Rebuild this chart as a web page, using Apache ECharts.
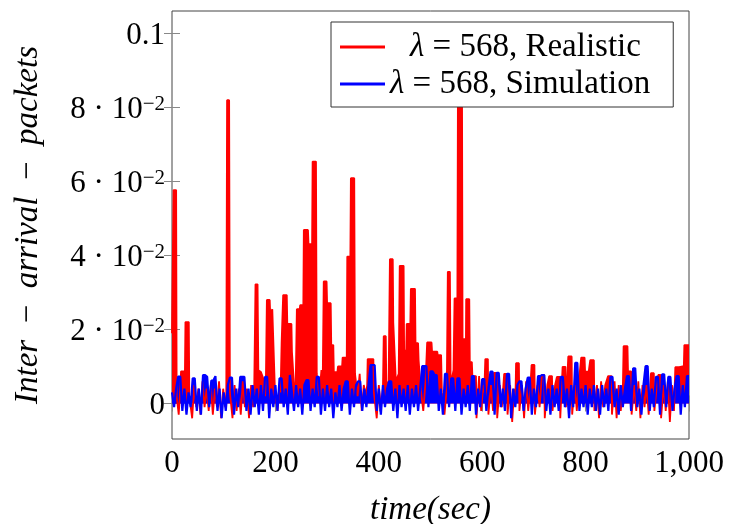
<!DOCTYPE html>
<html><head><meta charset="utf-8">
<script src="https://cdn.jsdelivr.net/npm/echarts@6.0.0/dist/echarts.min.js"></script>
<style>html,body{margin:0;padding:0;background:#fff}#c{width:740px;height:524px}</style>
</head><body><div id="c"></div>
<script>
const seriesNames = ['λ = 568, Realistic', 'λ = 568, Simulation'];
const xTicks = [0, 200, 400, 600, 800, 1000];
const xTickLabels = ['0', '200', '400', '600', '800', '1,000'];
const yTicks = [0, 0.02, 0.04, 0.06, 0.08, 0.1];
const yTickLabels = ['0', '2 · 10^−2', '4 · 10^−2', '6 · 10^−2', '8 · 10^−2', '0.1'];
const xTitle = 'time(sec)';
const yTitleWords = ['Inter', 'arrival', 'packets'];

// Realistic series: [time (s), inter-arrival]
const redPoints = [
[0,0.019],[2,0.019],[3,0.0577],[8,0.0577],[9,0.002],[13,-0.003],[16,0.004],[17.5,0.0087],[25,0.0087],[26,0.022],[32.5,0.022],[33.5,0.002],[39,-0.004],[43,0.005],[47,-0.001],[51,0.004],[55,-0.003],[59,0.006],[63,-0.001],[67,0.004],[71,-0.002],[75,0.005],[79,-0.003],[83,0.004],[87,-0.001],[91,0.006],[95,-0.004],[99,0.004],[103,-0.001],[105,0.003],[106.5,0.082],[110.5,0.082],[112,0.003],[117,-0.004],[121,0.005],[125,-0.002],[129,0.004],[133,-0.003],[137,0.006],[141,-0.001],[145,0.004],[149,-0.004],[153,0.005],[157,-0.001],[159,0.004],[161.5,0.0322],[165.5,0.0322],[167,0.009],[172,0.0085],[176,0.007],[180,0.002],[181.5,0.005],[183.5,0.028],[189,0.028],[190,0.0242],[193,0.0242],[194,0.0255],[197.5,0.0255],[199,0.004],[204,-0.002],[208,0.005],[210,0.003],[212,0.0163],[214,0.0163],[215,0.0293],[222,0.0293],[223,0.0215],[231,0.0215],[232,0.014],[235,0.014],[236.5,0.004],[239,0.003],[241.5,0.0255],[247,0.0255],[248,0.0266],[254,0.0266],[255,0.0469],[263,0.0469],[264,0.0431],[271,0.0431],[272,0.0654],[278.5,0.0654],[280,0.008],[285,0.002],[289,0.009],[291.5,0.006],[293.5,0.033],[299,0.033],[300,0.0271],[307,0.0271],[308,0.0158],[312,0.0158],[313,0.0085],[320,0.0085],[321,0.010],[329,0.010],[330,0.0124],[338,0.0124],[339,0.0397],[345,0.0397],[346,0.0609],[352.5,0.0609],[354,0.008],[359,0.002],[363,0.008],[367,-0.002],[371,0.005],[375,0.002],[377.5,0.005],[378.5,0.012],[389.5,0.012],[390.5,0.003],[396,-0.004],[400,0.005],[404,-0.001],[408,0.004],[409.5,0.0182],[413.5,0.0182],[414.5,0.005],[419,0.006],[421.5,0.039],[427,0.039],[428,0.0219],[431.5,0.0219],[433,0.006],[438.5,0.008],[440.5,0.0372],[448,0.0372],[449,0.0143],[453,0.0143],[454,0.0215],[461,0.0215],[462,0.031],[470,0.031],[471,0.0163],[476,0.0163],[477,0.0118],[479.5,0.0118],[481,0.004],[486,-0.002],[490.5,0.006],[493.5,0.0165],[502,0.0165],[503,0.014],[513,0.014],[514,0.0131],[520.5,0.0131],[522,0.003],[527,-0.003],[531.5,0.004],[533.5,0.0356],[537.5,0.0356],[539,0.005],[544.5,0.009],[546.5,0.0284],[552,0.0284],[553,0.082],[561,0.082],[562,0.0174],[567,0.0174],[568,0.006],[569,0.0282],[575,0.0282],[576,0.0112],[580,0.0112],[581,0.0074],[588,0.0074],[589,-0.004],[594,0.0074],[598,-0.002],[602,0.005],[604,0.003],[606,0.012],[611,0.012],[612,-0.003],[617,0.005],[621,-0.002],[622.5,0.0083],[628,0.0083],[629,-0.004],[634,0.005],[638,-0.001],[642.5,0.008],[648,0.008],[649,-0.003],[654,0.005],[658,-0.005],[662,0.004],[664.5,0.003],[665.5,0.0109],[671,0.0109],[672,-0.002],[677,0.005],[681,-0.004],[685,0.006],[689,-0.002],[693,0.004],[695.5,0.0104],[701,0.0104],[702,-0.003],[707,0.005],[711,-0.001],[715.5,0.0077],[720,0.0077],[721,-0.004],[726,0.005],[729.5,0.0074],[735,0.0074],[736,-0.002],[741,0.005],[744.5,0.0072],[750,0.0072],[751,-0.004],[755.5,0.0099],[761,0.0099],[762,-0.001],[766.5,0.0127],[773,0.0127],[774,-0.003],[779,0.005],[783,-0.002],[787,0.006],[791.5,0.0124],[798,0.0124],[799,0.0086],[806,0.0086],[807,0.0097],[809,0.0117],[816,0.0117],[817,-0.002],[822,0.005],[826,-0.004],[830,0.006],[834,-0.001],[838,0.005],[843.5,0.0074],[850,0.0074],[851,-0.003],[856,0.006],[860,-0.004],[864,0.005],[868,-0.002],[872,0.004],[873.5,0.0155],[881,0.0155],[882,0.0087],[888,0.0087],[889,-0.003],[894,0.005],[898,-0.002],[902,0.006],[906,-0.004],[910,0.005],[914,-0.001],[918,0.005],[922,-0.003],[926.5,0.0082],[932,0.0082],[933,-0.002],[938,0.005],[940.5,0.0077],[945,0.0077],[946,-0.004],[951,0.005],[955,-0.002],[959,0.006],[963,-0.005],[967,0.005],[971,-0.002],[973.5,0.0098],[981,0.0098],[982,0.0101],[990,0.0101],[991,0.0158],[1000,0.0158]
];

// Simulation series: one value every 4 s from t = 0
const blueStep = 4;
const blueValues = [
0.003,-0.001,0.004,0.0073,0.0073,-0.002,0.004,-0.003,0.003,-0.001,
0.0068,0.0068,-0.002,0.004,-0.003,0.0077,0.0077,0.0072,-0.001,0.0062,
0.0062,0.0074,-0.002,0.004,-0.004,0.003,-0.002,0.005,0.007,0.007,
-0.003,0.004,-0.001,0.0072,0.0072,0.0072,-0.002,0.004,-0.003,0.005,
-0.001,0.004,-0.003,0.005,-0.002,0.0072,0.0072,-0.004,0.004,-0.001,
0.005,-0.002,0.0068,0.0068,-0.001,0.004,-0.003,0.0077,0.003,-0.002,
0.005,-0.001,0.004,-0.003,0.005,0.0063,0.0063,-0.002,0.004,-0.001,
0.0072,0.0072,-0.003,0.004,-0.002,0.005,-0.001,0.004,-0.004,0.003,
-0.001,0.005,-0.002,0.004,0.006,0.006,-0.003,0.004,-0.001,0.005,
0.006,0.006,-0.002,0.004,-0.001,0.005,0.0104,0.0104,0.0104,-0.002,
0.004,-0.003,0.005,-0.001,0.004,0.006,0.006,-0.002,0.004,-0.004,
0.005,-0.001,0.004,-0.002,0.005,-0.003,0.004,-0.001,0.005,-0.002,
0.004,0.0101,0.0101,0.0101,-0.001,0.0087,0.0087,0.0077,0.0077,-0.002,
0.004,-0.003,0.008,0.008,-0.001,0.0068,0.0068,-0.002,0.0068,0.0068,
-0.003,0.004,-0.001,0.005,-0.002,0.0074,0.0074,-0.003,0.004,-0.001,
0.0066,0.0066,-0.002,0.004,0.0086,0.0086,-0.003,0.0083,0.0083,-0.001,
0.004,-0.002,0.008,0.008,-0.004,0.004,-0.001,0.005,0.006,0.006,
-0.002,0.004,0.007,0.007,-0.003,0.004,-0.001,0.0074,0.0074,0.0077,
0.0077,-0.002,0.004,-0.003,0.005,-0.001,0.004,-0.002,0.0072,0.0072,
-0.001,0.004,-0.004,0.005,-0.001,0.011,0.011,-0.002,0.004,-0.001,
0.005,-0.003,0.004,-0.001,0.005,-0.002,0.004,-0.003,0.005,-0.001,
0.004,-0.002,0.0072,0.0072,-0.001,0.004,-0.003,0.005,-0.001,0.004,
0.0074,0.0074,-0.002,0.0095,0.0095,-0.001,0.004,-0.003,0.005,0.0101,
0.0101,-0.002,0.004,-0.001,0.0072,0.0072,-0.003,0.0079,0.0079,-0.001,
0.0072,0.0072,-0.002,0.004,0.0074,0.0074,-0.003,0.005,-0.001,0.0074,
0.0074
];
const bluePoints = blueValues.map((v, i) => [i * blueStep, v]);

const FONT = 'Liberation Serif';
const TICK_FS = 31, TITLE_FS = 33, LEG_FS = 33;
const RED = '#ff0000', BLUE = '#0000ff';
const xLabelFor = v => { const i = xTicks.indexOf(v); return i >= 0 ? xTickLabels[i] : ''; };
const yLabelFor = v => {
  const i = yTicks.findIndex(t => Math.abs(t - v) < 1e-9);
  if (i < 0) return '';
  const p = yTickLabels[i].split('^');
  return p.length > 1 ? '{n|' + p[0] + '}{s|' + p[1] + '}' : '{n|' + p[0] + '}';
};
const tickStyle = { inside: true, length: 8, lineStyle: { color: '#888', width: 1 } };

const chart = echarts.init(document.getElementById('c'), null, { renderer: 'canvas' });
chart.setOption({
  animation: false,
  grid: { left: 172, right: 51, top: 11, bottom: 85, show: true, borderColor: '#444', borderWidth: 1,
          backgroundColor: 'transparent', containLabel: false, outerBoundsMode: 'none' },
  legend: {
    data: seriesNames.map(n => ({ name: n, icon: 'rect' })), orient: 'vertical', left: 331, top: 22,
    itemWidth: 45, itemHeight: 3, itemGap: 3, padding: [8, 23, 6, 9],
    backgroundColor: '#fff', borderColor: '#333', borderWidth: 1, borderRadius: 0,
    selectedMode: false,
    formatter: name => {
      const k = name.indexOf(' ');
      return (name === seriesNames[0] ? '{sp| }' : '') + '{i|' + name.slice(0, k) + '}{r|' + name.slice(k) + '}';
    },
    textStyle: {
      fontFamily: FONT, fontSize: LEG_FS, color: '#000', lineHeight: 34,
      rich: {
        i: { fontFamily: FONT, fontStyle: 'italic', fontSize: LEG_FS, lineHeight: 34, color: '#000' },
        r: { fontFamily: FONT, fontSize: LEG_FS, lineHeight: 34, color: '#000' },
        sp: { width: 20 }
      }
    }
  },
  xAxis: [
    { type: 'value', min: 0, max: 1000, interval: 200, position: 'bottom',
      axisLine: { show: false }, axisTick: tickStyle, splitLine: { show: false },
      axisLabel: { margin: 9, formatter: xLabelFor, fontFamily: FONT, fontSize: TICK_FS, color: '#000' },
      name: xTitle, nameLocation: 'middle', nameGap: 55,
      nameTextStyle: { fontFamily: FONT, fontStyle: 'italic', fontSize: TITLE_FS, color: '#000' } },
    { type: 'value', min: 0, max: 1000, interval: 200, position: 'top',
      axisLine: { show: false }, axisTick: tickStyle, splitLine: { show: false }, axisLabel: { show: false } }
  ],
  yAxis: [
    { type: 'value', min: -0.0096, max: 0.1061, position: 'left',
      axisLine: { show: false }, splitLine: { show: false },
      axisTick: Object.assign({ customValues: yTicks }, tickStyle),
      axisLabel: { customValues: yTicks, formatter: yLabelFor, margin: 7, padding: [5, 0, 0, 0],
        rich: {
          n: { fontFamily: FONT, fontSize: TICK_FS, color: '#000', lineHeight: 32 },
          s: { fontFamily: FONT, fontSize: 21, color: '#000', verticalAlign: 'top', lineHeight: 15 }
        } },
      name: yTitleWords.map(w => '{i|' + w + '}').join('\u2002−\u2002'), nameLocation: 'middle', nameGap: 127,
      nameTextStyle: { fontFamily: FONT, fontSize: TITLE_FS, color: '#000',
        rich: { i: { fontFamily: FONT, fontStyle: 'italic', fontSize: TITLE_FS, color: '#000' } } } },
    { type: 'value', min: -0.0096, max: 0.1061, position: 'right',
      axisLine: { show: false }, splitLine: { show: false },
      axisTick: Object.assign({ customValues: yTicks }, tickStyle), axisLabel: { show: false } }
  ],
  series: [
    { name: seriesNames[0], type: 'line', data: redPoints, symbol: 'none', showSymbol: false,
      lineStyle: { width: 1.8, color: RED }, itemStyle: { color: RED },
      areaStyle: { color: RED, opacity: 1, origin: 0 } },
    { name: seriesNames[1], type: 'line', data: bluePoints, symbol: 'none', showSymbol: false,
      lineStyle: { width: 2.2, color: BLUE }, itemStyle: { color: BLUE },
      areaStyle: { color: BLUE, opacity: 1, origin: 0 } }
  ]
});
</script></body></html>
